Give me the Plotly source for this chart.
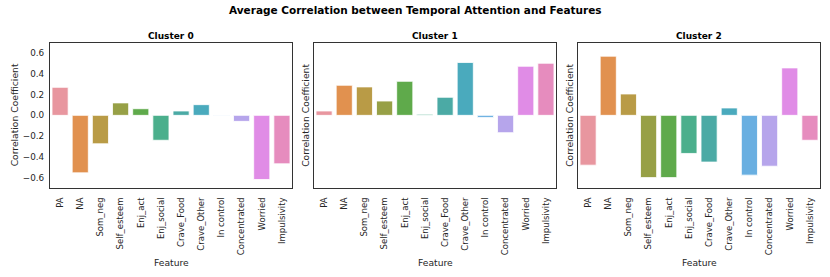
import plotly.graph_objects as go

features = ["PA", "NA", "Som_neg", "Self_esteem", "Enj_act", "Enj_social",
            "Crave_Food", "Crave_Other", "In control", "Concentrated", "Worried", "Impulsivity"]
cluster0 = [0.27, -0.554, -0.274, 0.12, 0.064, -0.24, 0.042, 0.103, 0.003, -0.058, -0.618, -0.467]
cluster1 = [0.042, 0.29, 0.274, 0.138, 0.328, 0.01, 0.174, 0.509, -0.02, -0.167, 0.473, 0.502]
cluster2 = [-0.48, 0.57, 0.206, -0.60, -0.60, -0.367, -0.45, 0.071, -0.576, -0.49, 0.457, -0.24]
clusters = [cluster0, cluster1, cluster2]
titles = ["Cluster 0", "Cluster 1", "Cluster 2"]
y_ticks = [-0.6, -0.4, -0.2, 0.0, 0.2, 0.4, 0.6]
y_ticktext = ["\u22120.6", "\u22120.4", "\u22120.2", "0.0", "0.2", "0.4", "0.6"]

colors = ["#e8969f", "#e1914f", "#b99b46", "#97a046", "#5faa4b", "#4baf8c",
          "#4baaa5", "#4aaabd", "#69afe1", "#b6a5eb", "#e08ce6", "#e68cbe"]

W, H = 830, 277
xdoms = [(50, 292), (314, 556), (578, 820)]
top_px, bot_px = 42.7, 188
ydom = [1 - bot_px / H, 1 - top_px / H]
FONT = "DejaVu Sans"
TXT = "#262626"

fig = go.Figure()
layout = dict(
    width=W, height=H, margin=dict(l=0, r=0, t=0, b=0, autoexpand=False),
    paper_bgcolor="white", plot_bgcolor="white", showlegend=False,
    font=dict(family=FONT, size=9, color=TXT), bargap=0.2,
)
annotations = []
for i, (vals, ttl) in enumerate(zip(clusters, titles)):
    n = "" if i == 0 else str(i + 1)
    fig.add_trace(go.Bar(
        x=features, y=vals, xaxis="x" + n, yaxis="y" + n,
        marker=dict(color=colors, line=dict(color="white", width=0.8)),
        width=0.8,
    ))
    layout["xaxis" + n] = dict(
        domain=[xdoms[i][0] / W, xdoms[i][1] / W], anchor="y" + n,
        showline=True, mirror=True, linecolor="#333333", linewidth=1.1,
        showgrid=False, zeroline=False, tickangle=-90, automargin=False,
        tickfont=dict(size=8.5, color=TXT), ticks="outside", ticklen=5,
        tickcolor="rgba(0,0,0,0)", range=[-0.5, 11.5],
    )
    layout["yaxis" + n] = dict(
        domain=ydom, anchor="x" + n, range=[-0.7, 0.7], automargin=False,
        showline=True, mirror=True, linecolor="#333333", linewidth=1.1,
        showgrid=False, zeroline=False, tickvals=y_ticks, ticktext=y_ticktext,
        showticklabels=(i == 0), tickfont=dict(size=8.8, color=TXT),
        ticks="outside", ticklen=3, tickcolor="rgba(0,0,0,0)",
    )
    cx = (xdoms[i][0] + xdoms[i][1]) / 2 / W
    annotations.append(dict(text="<b>%s</b>" % ttl, x=cx, y=1 - 36 / H, xref="paper", yref="paper",
                            showarrow=False, font=dict(size=9, color="black"),
                            xanchor="center", yanchor="middle"))
    annotations.append(dict(text="Feature", x=cx, y=1 - 262 / H, xref="paper", yref="paper",
                            showarrow=False, font=dict(size=9.2, color=TXT),
                            xanchor="center", yanchor="middle"))
    lx = 14 if i == 0 else xdoms[i][0] - 8.5
    annotations.append(dict(text="Correlation Coefficient", x=lx / W, y=(ydom[0] + ydom[1]) / 2,
                            xref="paper", yref="paper", showarrow=False, textangle=-90,
                            font=dict(size=9.2, color=TXT), xanchor="center", yanchor="middle"))

annotations.append(dict(text="<b>Average Correlation between Temporal Attention and Features</b>",
                        x=0.5, y=1 - 10 / H, xref="paper", yref="paper",
                        showarrow=False, font=dict(size=10.5, color="black"),
                        xanchor="center", yanchor="middle"))
layout["annotations"] = annotations
fig.update_layout(**layout)
fig.write_html("out.html", config={"displayModeBar": False},
               post_script="document.body.style.margin='0';document.body.style.padding='0';")
